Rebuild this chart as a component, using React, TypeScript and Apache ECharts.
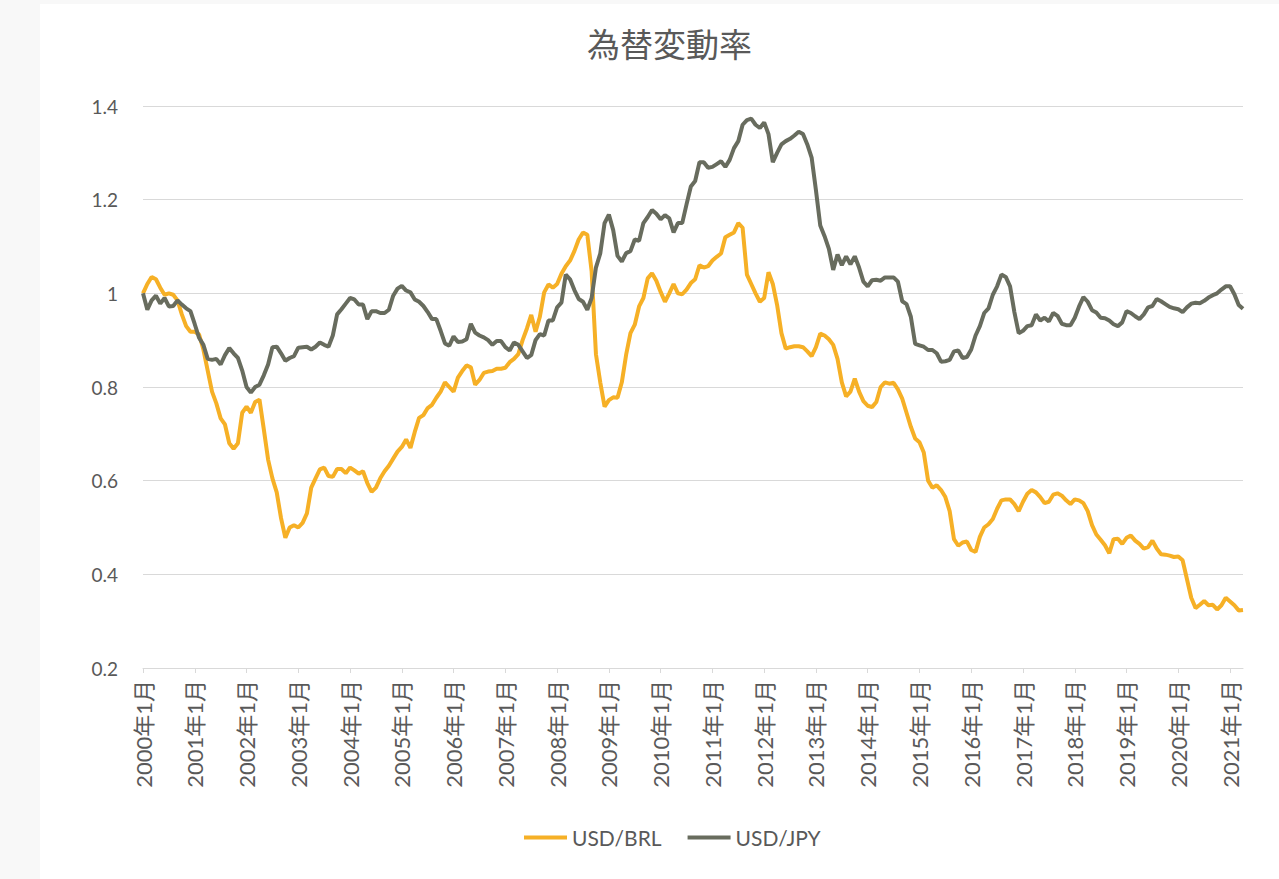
import React, { useEffect, useRef } from "react";
import * as echarts from "echarts";

// Monthly categories: 2000年1月 .. 2021年4月
const START_YEAR = 2000;
const MONTH_COUNT = 256;
const categories: string[] = [];
for (let i = 0; i < MONTH_COUNT; i++) {
  const y = START_YEAR + Math.floor(i / 12);
  const m = (i % 12) + 1;
  categories.push(`${y}年${m}月`);
}

const yTicks = [0.2, 0.4, 0.6, 0.8, 1.0, 1.2, 1.4];

const usdBrl: number[] = [
  // 2000
  1.0, 1.02, 1.035, 1.03, 1.012, 0.997, 1.0, 0.997, 0.985, 0.955, 0.93, 0.918,
  // 2001
  0.918, 0.912, 0.88, 0.835, 0.79, 0.765, 0.733, 0.72, 0.68, 0.668, 0.68, 0.745,
  // 2002
  0.758, 0.745, 0.768, 0.773, 0.71, 0.645, 0.605, 0.575, 0.52, 0.478, 0.5, 0.505,
  // 2003
  0.5, 0.51, 0.53, 0.585, 0.605, 0.624, 0.628, 0.61, 0.608, 0.625, 0.625, 0.616,
  // 2004
  0.628, 0.622, 0.615, 0.62, 0.595, 0.576, 0.585, 0.605, 0.62, 0.632, 0.647, 0.662,
  // 2005
  0.672, 0.688, 0.67, 0.704, 0.734, 0.74, 0.755, 0.762, 0.777, 0.79, 0.81, 0.8,
  // 2006
  0.79, 0.82, 0.834, 0.846, 0.842, 0.805, 0.815, 0.83, 0.833, 0.834, 0.839, 0.839,
  // 2007
  0.841, 0.853, 0.86, 0.87, 0.9, 0.925, 0.954, 0.918, 0.95, 1.002, 1.019, 1.012,
  // 2008
  1.02, 1.042, 1.058, 1.07, 1.09, 1.115, 1.13, 1.125, 1.047, 0.87, 0.81, 0.758,
  // 2009
  0.772, 0.778, 0.777, 0.81, 0.869, 0.915, 0.933, 0.972, 0.99, 1.032, 1.043, 1.027,
  // 2010
  1.003, 0.982, 1.0, 1.02, 1.0, 0.998, 1.008, 1.022, 1.03, 1.06, 1.055, 1.058,
  // 2011
  1.07, 1.078, 1.085, 1.12, 1.125, 1.13, 1.15, 1.14, 1.04, 1.02, 1.0, 0.982,
  // 2012
  0.99, 1.045, 1.02, 0.975, 0.915, 0.882, 0.885, 0.887, 0.887, 0.885, 0.876, 0.866,
  // 2013
  0.885, 0.914, 0.91, 0.902, 0.89, 0.86, 0.81, 0.78, 0.79, 0.818, 0.79, 0.77,
  // 2014
  0.76, 0.757, 0.768, 0.8, 0.81, 0.807, 0.809, 0.795, 0.775, 0.745, 0.715, 0.69,
  // 2015
  0.682, 0.66, 0.6, 0.585, 0.59, 0.58, 0.565, 0.535, 0.475, 0.461, 0.468, 0.47,
  // 2016
  0.452, 0.448, 0.48, 0.5, 0.507, 0.518, 0.54, 0.558, 0.56, 0.56, 0.55, 0.535,
  // 2017
  0.555, 0.572, 0.58, 0.575, 0.565, 0.552, 0.555, 0.57, 0.573, 0.568, 0.558, 0.55,
  // 2018
  0.56, 0.558, 0.552, 0.535, 0.505, 0.485, 0.474, 0.462, 0.445, 0.475, 0.476, 0.465,
  // 2019
  0.478, 0.483, 0.472, 0.465, 0.455, 0.458, 0.472, 0.455, 0.443, 0.442, 0.44, 0.437,
  // 2020
  0.438, 0.43, 0.39, 0.35, 0.328, 0.335, 0.343, 0.334, 0.335, 0.325, 0.334, 0.35,
  // 2021
  0.342, 0.334, 0.323, 0.324,
];

const usdJpy: number[] = [
  // 2000
  1.0, 0.965, 0.985, 0.995, 0.978, 0.99, 0.972, 0.973, 0.985, 0.976, 0.968, 0.962,
  // 2001
  0.934, 0.905, 0.89, 0.86, 0.858, 0.86, 0.848, 0.868, 0.883, 0.872, 0.862, 0.835,
  // 2002
  0.8, 0.788, 0.8, 0.805, 0.825, 0.848, 0.885, 0.886, 0.872, 0.856, 0.862, 0.866,
  // 2003
  0.884, 0.885, 0.886, 0.88, 0.886, 0.895, 0.89, 0.886, 0.91, 0.955, 0.966, 0.978,
  // 2004
  0.99, 0.987, 0.976, 0.976, 0.945, 0.962, 0.962, 0.958, 0.958, 0.965, 0.995, 1.01,
  // 2005
  1.016, 1.006, 1.002, 0.987, 0.982, 0.973, 0.96, 0.945, 0.945, 0.92, 0.893, 0.888,
  // 2006
  0.908, 0.896, 0.897, 0.902, 0.935, 0.916, 0.91, 0.906, 0.9, 0.89, 0.898, 0.898,
  // 2007
  0.885, 0.878, 0.895, 0.89, 0.876, 0.862, 0.868, 0.9, 0.913, 0.91, 0.942, 0.942,
  // 2008
  0.97, 0.98, 1.04, 1.03, 1.007, 0.988, 0.982, 0.965, 0.99, 1.055, 1.085, 1.15,
  // 2009
  1.168, 1.135, 1.08, 1.068, 1.086, 1.09, 1.115, 1.112, 1.15, 1.163, 1.178, 1.17,
  // 2010
  1.158, 1.167, 1.16, 1.13, 1.15, 1.15, 1.19, 1.228, 1.24, 1.28, 1.28, 1.268,
  // 2011
  1.27, 1.276, 1.282, 1.27, 1.285, 1.31, 1.325, 1.36, 1.37, 1.373, 1.36, 1.353,
  // 2012
  1.365, 1.34, 1.28, 1.3, 1.318, 1.325, 1.33, 1.337, 1.345, 1.34, 1.318, 1.29,
  // 2013
  1.22, 1.145, 1.122, 1.095, 1.05, 1.083, 1.06, 1.079, 1.062, 1.079, 1.055, 1.025,
  // 2014
  1.015, 1.028, 1.029, 1.027, 1.034, 1.034, 1.034, 1.025, 0.983, 0.977, 0.95, 0.892,
  // 2015
  0.889, 0.886, 0.879, 0.879, 0.872, 0.854, 0.855, 0.858, 0.876, 0.878, 0.862, 0.864,
  // 2016
  0.88, 0.91, 0.93, 0.958, 0.968, 0.997, 1.015, 1.04, 1.035, 1.015, 0.96, 0.915,
  // 2017
  0.92, 0.93, 0.932, 0.955, 0.942, 0.948, 0.94, 0.958, 0.952, 0.935, 0.932, 0.932,
  // 2018
  0.948, 0.972, 0.992, 0.982, 0.964, 0.959, 0.948, 0.947, 0.942, 0.934, 0.93, 0.938,
  // 2019
  0.962, 0.958, 0.951, 0.945, 0.955, 0.97, 0.973, 0.988, 0.983, 0.977, 0.971, 0.968,
  // 2020
  0.966, 0.96, 0.97, 0.978, 0.98, 0.979, 0.984, 0.991, 0.996, 1.0, 1.008, 1.015,
  // 2021
  1.015, 0.998, 0.975, 0.967,
];

const seriesNames = ["USD/BRL", "USD/JPY"];
const seriesColors = ["#F6B026", "#686C5E"];

const TEXT = "#595959";
const GRID = "#d9d9d9";
const FONT = "Lato, 'Noto Sans CJK JP', sans-serif";

export default function App() {
  const ref = useRef<HTMLDivElement>(null);

  useEffect(() => {
    if (!ref.current) return;
    const chart = echarts.init(ref.current, undefined, { renderer: "svg" });
    chart.setOption({
      animation: false,
      backgroundColor: "#ffffff",
      textStyle: { fontFamily: FONT },
      title: {
        text: "為替変動率",
        left: 542,
        top: 18,
        textStyle: {
          fontSize: 33,
          fontWeight: "normal",
          color: TEXT,
          fontFamily: FONT,
        },
      },
      legend: {
        data: seriesNames,
        left: 479,
        top: 818,
        icon: "rect",
        itemWidth: 43,
        itemHeight: 4,
        itemGap: 26,
        textStyle: { fontSize: 21, color: TEXT, fontFamily: FONT },
      },
      grid: { left: 103, right: 36, top: 102, bottom: 211, containLabel: false },
      xAxis: {
        type: "category",
        data: categories,
        boundaryGap: false,
        axisLine: { lineStyle: { color: GRID, width: 1 } },
        axisTick: {
          show: true,
          interval: 11,
          length: 5,
          lineStyle: { color: GRID },
        },
        axisLabel: {
          interval: 11,
          rotate: 90,
          margin: 12,
          fontSize: 22,
          color: TEXT,
          fontFamily: FONT,
        },
        splitLine: { show: false },
      },
      yAxis: {
        type: "value",
        min: yTicks[0],
        max: yTicks[yTicks.length - 1],
        interval: 0.2,
        axisLine: { show: false },
        axisTick: { show: false },
        axisLabel: {
          margin: 25,
          fontSize: 19,
          color: TEXT,
          fontFamily: FONT,
          formatter: (v: number) => String(Math.round(v * 10) / 10),
        },
        splitLine: { lineStyle: { color: GRID, width: 1 } },
      },
      series: [
        {
          name: seriesNames[0],
          type: "line",
          data: usdBrl,
          symbol: "none",
          showSymbol: false,
          lineStyle: { color: seriesColors[0], width: 4 },
          itemStyle: { color: seriesColors[0] },
        },
        {
          name: seriesNames[1],
          type: "line",
          data: usdJpy,
          symbol: "none",
          showSymbol: false,
          lineStyle: { color: seriesColors[1], width: 4 },
          itemStyle: { color: seriesColors[1] },
        },
      ],
    });
    return () => chart.dispose();
  }, []);

  return (
    <div
      style={{
        position: "fixed",
        left: 0,
        top: 0,
        width: 1279,
        height: 879,
        background: "#f8f8f8",
      }}
    >
      <div
        ref={ref}
        style={{
          position: "absolute",
          left: 40,
          top: 4,
          width: 1239,
          height: 875,
          background: "#ffffff",
        }}
      />
    </div>
  );
}
